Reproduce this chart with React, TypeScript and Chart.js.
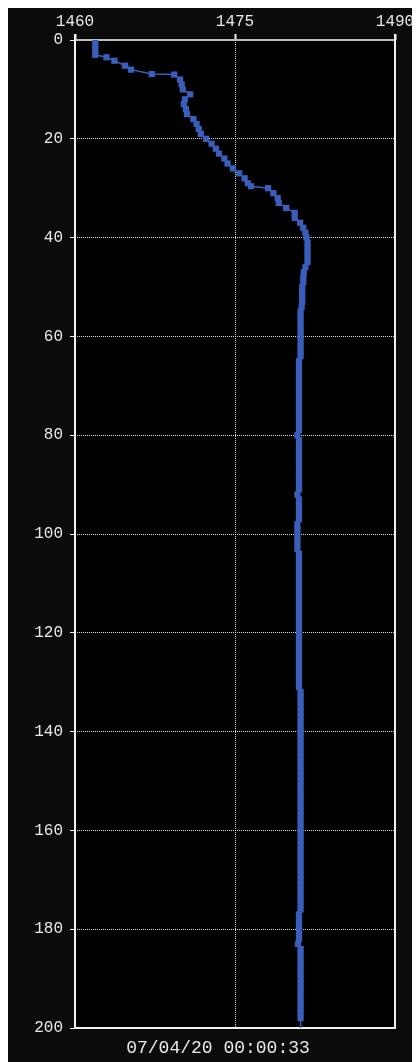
import React, { useEffect, useRef } from "react";
import { Chart, registerables } from "chart.js";

Chart.register(...registerables);

const X_TICKS = [1460, 1475, 1490];
const Y_TICKS = [0, 20, 40, 60, 80, 100, 120, 140, 160, 180, 200];
const TIMESTAMP = "07/04/20 00:00:33";

// depth (m)
const DEPTH = [
  0, 1, 2, 3, 3.5, 4.2, 5.2, 6, 6.9, 7,
  8, 9, 10, 11, 12, 13, 14, 15, 16, 17, 18, 19, 20, 21, 22, 23, 24, 25, 26, 27, 28, 29,
  29.6,
  30, 31, 32, 33, 34, 35, 36, 37, 38, 39,
  40, 41, 42, 43, 44, 45, 46, 47, 48, 49,
  50, 51, 52, 53, 54, 55, 56, 57, 58, 59,
  60, 61, 62, 63, 64, 65, 66, 67, 68, 69,
  70, 71, 72, 73, 74, 75, 76, 77, 78, 79,
  80, 81, 82, 83, 84, 85, 86, 87, 88, 89,
  90, 91, 92, 93, 94, 95, 96, 97, 98, 99,
  100, 101, 102, 103, 104, 105, 106, 107, 108, 109,
  110, 111, 112, 113, 114, 115, 116, 117, 118, 119,
  120, 121, 122, 123, 124, 125, 126, 127, 128, 129,
  130, 131, 132, 133, 134, 135, 136, 137, 138, 139,
  140, 141, 142, 143, 144, 145, 146, 147, 148, 149,
  150, 151, 152, 153, 154, 155, 156, 157, 158, 159,
  160, 161, 162, 163, 164, 165, 166, 167, 168, 169,
  170, 171, 172, 173, 174, 175, 176, 177, 178, 179,
  180, 181, 182, 183, 184, 185, 186, 187, 188, 189,
  190, 191, 192, 193, 194, 195, 196, 197, 198, 200,
];

// sound velocity (m/s)
const VELOCITY = [
  1461.9, 1461.9, 1461.9, 1461.9, 1462.95, 1463.7, 1464.7, 1465.25, 1467.2, 1469.3,
  1469.85, 1470.0, 1470.1, 1470.8, 1470.3, 1470.2, 1470.4, 1470.5, 1471.1, 1471.4, 1471.6,
  1471.8, 1472.3, 1472.8, 1473.2, 1473.5, 1474.0, 1474.3, 1474.8, 1475.4, 1475.9, 1476.2,
  1476.5,
  1478.1, 1478.6, 1479.0, 1479.1, 1479.8, 1480.6, 1480.6, 1481.1, 1481.4, 1481.6,
  1481.7, 1481.8, 1481.8, 1481.8, 1481.8, 1481.8, 1481.6, 1481.45, 1481.4, 1481.4,
  1481.3, 1481.3, 1481.3, 1481.3, 1481.25, 1481.15, 1481.15, 1481.15, 1481.15, 1481.15,
  1481.15, 1481.15, 1481.15, 1481.15, 1481.15, 1481.0, 1481.0, 1481.0, 1481.0, 1481.0,
  1481.0, 1481.0, 1481.0, 1481.0, 1481.0, 1481.0, 1481.0, 1481.0, 1481.0, 1481.0,
  1480.85, 1481.0, 1481.0, 1481.0, 1481.0, 1481.0, 1481.0, 1481.0, 1481.0, 1481.0,
  1481.0, 1481.0, 1480.85, 1481.0, 1481.0, 1481.0, 1481.0, 1481.0, 1480.85, 1480.85,
  1480.85, 1480.85, 1480.85, 1480.85, 1481.0, 1481.0, 1481.0, 1481.0, 1481.0, 1481.0,
  1481.0, 1481.0, 1481.0, 1481.0, 1481.0, 1481.0, 1481.0, 1481.0, 1481.0, 1481.0,
  1481.0, 1481.0, 1481.0, 1481.0, 1481.0, 1481.0, 1481.0, 1481.0, 1481.0, 1481.0,
  1481.0, 1481.0, 1481.15, 1481.15, 1481.15, 1481.15, 1481.15, 1481.15, 1481.15, 1481.15,
  1481.15, 1481.15, 1481.15, 1481.15, 1481.15, 1481.15, 1481.15, 1481.15, 1481.15, 1481.15,
  1481.15, 1481.15, 1481.15, 1481.15, 1481.15, 1481.15, 1481.15, 1481.15, 1481.15, 1481.15,
  1481.15, 1481.15, 1481.15, 1481.15, 1481.15, 1481.15, 1481.15, 1481.15, 1481.15, 1481.15,
  1481.15, 1481.15, 1481.15, 1481.15, 1481.15, 1481.15, 1481.15, 1481.0, 1481.0, 1481.0,
  1481.0, 1481.0, 1481.0, 1480.9, 1481.15, 1481.15, 1481.15, 1481.15, 1481.15, 1481.15,
  1481.15, 1481.15, 1481.15, 1481.15, 1481.15, 1481.15, 1481.15, 1481.15, 1481.15, 1481.15,
];

const BLUE = "rgb(58,94,186)";
const FONT = "'Liberation Mono', 'DejaVu Sans Mono', monospace";

export default function App() {
  const ref = useRef<HTMLCanvasElement>(null);

  useEffect(() => {
    if (!ref.current) return;
    const framePlugin = {
      id: "frame",
      beforeDraw(chart: any) {
        const { ctx, chartArea: a } = chart;
        ctx.save();
        ctx.fillStyle = "#000";
        ctx.fillRect(a.left, a.top, a.right - a.left, a.bottom - a.top);
        ctx.restore();
      },
      beforeDatasetsDraw(chart: any) {
        const { ctx, chartArea: a } = chart;
        ctx.save();
        ctx.lineWidth = 2;
        ctx.strokeStyle = "#bdbdbd";
        ctx.beginPath();
        ctx.moveTo(a.left, a.top);
        ctx.lineTo(a.right, a.top);
        ctx.stroke();
        ctx.strokeStyle = "#f2f2f2";
        ctx.beginPath();
        ctx.moveTo(a.left, a.top - 6);
        ctx.lineTo(a.left, a.bottom);
        ctx.lineTo(a.right, a.bottom);
        ctx.lineTo(a.right, a.top - 6);
        ctx.stroke();
        ctx.restore();
      },
      afterDraw(chart: any) {
        const { ctx, chartArea: a } = chart;
        ctx.save();
        ctx.fillStyle = "#e8e8e8";
        ctx.font = `18px ${FONT}`;
        ctx.textAlign = "center";
        ctx.textBaseline = "middle";
        ctx.fillText(TIMESTAMP, chart.width / 2 + 4, a.bottom + 20);
        ctx.restore();
      },
    };

    const points = DEPTH.map((d, i) => ({ x: VELOCITY[i], y: d }));

    const chart = new Chart(ref.current, {
      type: "line",
      data: {
        datasets: [
          {
            data: points,
            borderColor: BLUE,
            backgroundColor: BLUE,
            borderWidth: 1.5,
            pointStyle: "rect",
            pointRadius: (c: any) => (c.dataIndex === DEPTH.length - 1 ? 0 : 4.4),
            pointBorderWidth: 0,
            pointBackgroundColor: BLUE,
            tension: 0,
            fill: false,
          },
        ],
      },
      options: {
        animation: false,
        responsive: false,
        maintainAspectRatio: false,
        layout: { padding: { left: 0, right: 25, top: 0, bottom: 34 } },
        plugins: {
          legend: { display: false },
          tooltip: { enabled: false },
          title: { display: false },
        },
        scales: {
          x: {
            type: "linear",
            position: "top",
            min: 1460,
            max: 1490,
            afterBuildTicks: (s: any) => {
              s.ticks = X_TICKS.map((v) => ({ value: v }));
            },
            afterFit: (s: any) => {
              s.height = 32;
            },
            ticks: {
              color: "#e8e8e8",
              font: { family: FONT, size: 16 },
              padding: 3,
              maxRotation: 0,
              autoSkip: false,
              callback: (v: any) => String(v),
            },
            grid: {
              color: (c: any) =>
                c.tick && c.tick.value !== 1460 && c.tick.value !== 1490 ? "#d8d8d8" : "rgba(0,0,0,0)",
              tickColor: "#f2f2f2",
              tickLength: 6,
              tickWidth: 2,
              lineWidth: 1,
            },
            border: { display: false, dash: [1, 1] },
          },
          y: {
            type: "linear",
            position: "left",
            reverse: true,
            min: 0,
            max: 200,
            afterBuildTicks: (s: any) => {
              s.ticks = Y_TICKS.map((v) => ({ value: v }));
            },
            afterFit: (s: any) => {
              s.width = 67;
            },
            ticks: {
              color: "#e8e8e8",
              font: { family: FONT, size: 16 },
              padding: 7,
              autoSkip: false,
              callback: (v: any) => String(v),
            },
            grid: {
              color: (c: any) =>
                c.tick && c.tick.value !== 0 && c.tick.value !== 200 ? "#d8d8d8" : "rgba(0,0,0,0)",
              tickColor: "#f2f2f2",
              tickLength: 5,
              tickWidth: 1,
              lineWidth: 1,
            },
            border: { display: false, dash: [1, 1] },
          },
        },
      } as any,
      plugins: [framePlugin],
    });
    return () => chart.destroy();
  }, []);

  return (
    <div style={{ width: 412, height: 1054, background: "#0b0b0b" }}>
      <canvas ref={ref} width={412} height={1054} style={{ display: "block", width: 412, height: 1054 }} />
    </div>
  );
}
